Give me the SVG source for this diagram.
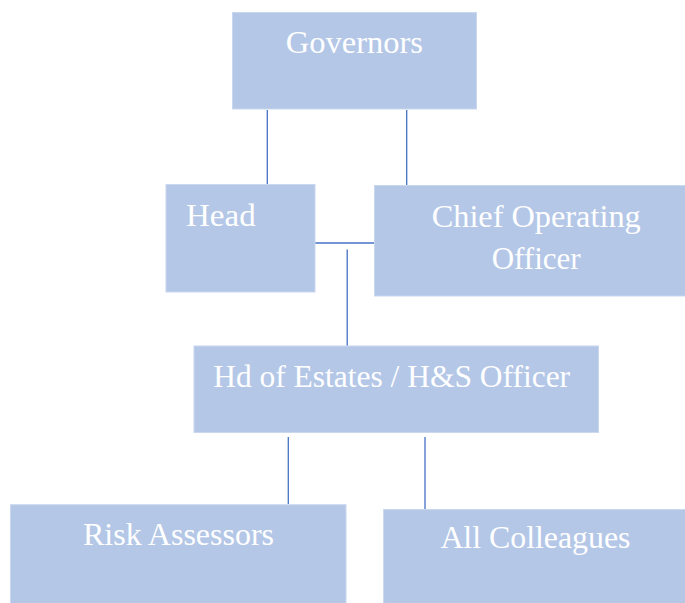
<svg xmlns="http://www.w3.org/2000/svg" width="685" height="603" viewBox="0 0 685 603">
<style>
.box{fill:#B4C7E7;stroke:#C9D7EF;stroke-width:1}
.lbl{font-family:"Liberation Serif","DejaVu Serif",serif;font-size:31px;fill:#FFFFFF}
.ln{stroke:#4472C4;stroke-width:1.3;fill:none}
</style>
<rect width="685" height="603" fill="#FFFFFF"/>
<g id="connectors">
<line class="ln" x1="267.3" y1="110" x2="267.3" y2="184"/>
<line class="ln" x1="406.7" y1="110" x2="406.7" y2="185"/>
<line class="ln" x1="315" y1="243" x2="374" y2="243"/>
<line class="ln" x1="347.2" y1="249.5" x2="347.2" y2="346"/>
<line class="ln" x1="288.3" y1="437" x2="288.3" y2="504"/>
<line class="ln" x1="425" y1="437" x2="425" y2="509.5"/>
</g>
<g id="governors">
<rect class="box" x="232.5" y="12.5" width="244" height="96.5"/>
<text class="lbl" x="285.7" y="53.3" textLength="137.3" lengthAdjust="spacingAndGlyphs">Governors</text>
</g>
<g id="head">
<rect class="box" x="166" y="184.5" width="149" height="107.5"/>
<text class="lbl" x="186" y="225.7" textLength="69.7" lengthAdjust="spacingAndGlyphs">Head</text>
</g>
<g id="coo">
<rect class="box" x="374.5" y="185.5" width="311" height="110.5"/>
<text class="lbl" x="431.7" y="226.7" textLength="209" lengthAdjust="spacingAndGlyphs">Chief Operating</text>
<text class="lbl" x="491.7" y="269.3" textLength="89" lengthAdjust="spacingAndGlyphs">Officer</text>
</g>
<g id="hd-estates">
<rect class="box" x="194" y="346" width="404.5" height="86.5"/>
<text class="lbl" x="213.2" y="387.3" textLength="356.9" lengthAdjust="spacingAndGlyphs">Hd of Estates / H&amp;S Officer</text>
</g>
<g id="risk-assessors">
<rect class="box" x="10.5" y="504.7" width="335.5" height="99"/>
<text class="lbl" x="83" y="545" textLength="191" lengthAdjust="spacingAndGlyphs">Risk Assessors</text>
</g>
<g id="all-colleagues">
<rect class="box" x="383.6" y="509.5" width="302" height="94"/>
<text class="lbl" x="440.4" y="548.3" textLength="190" lengthAdjust="spacingAndGlyphs">All Colleagues</text>
</g>
</svg>
